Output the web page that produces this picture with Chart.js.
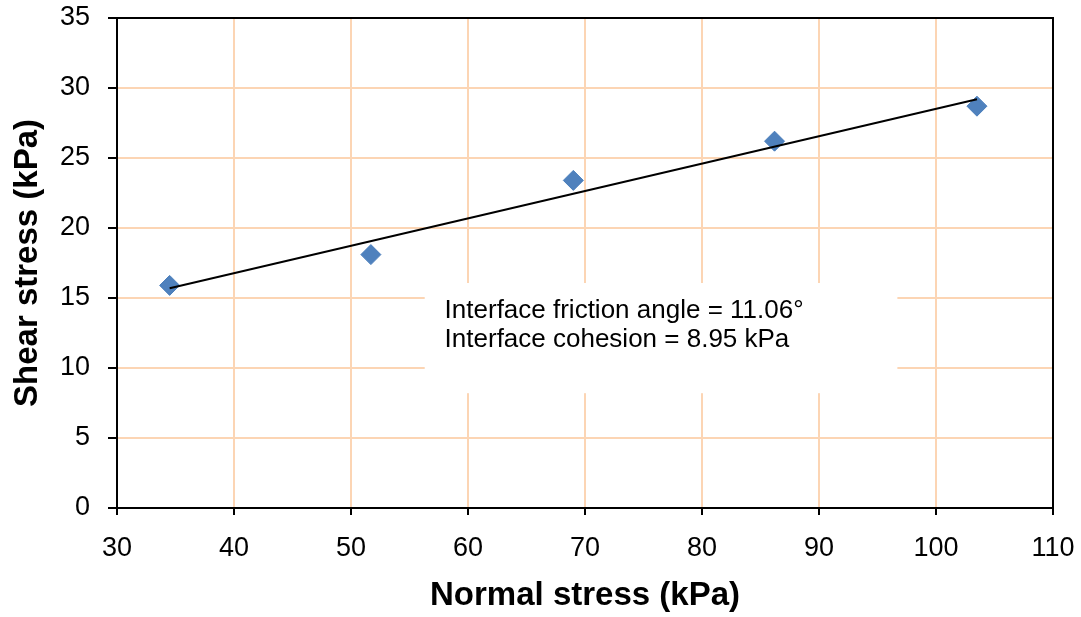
<!DOCTYPE html>
<html>
<head>
<meta charset="utf-8">
<script src="https://cdn.jsdelivr.net/npm/chart.js@4.4.0/dist/chart.umd.min.js"></script>
<style>
  html, body { margin: 0; padding: 0; background: #fff; }
  #wrap { width: 1081px; height: 617px; }
</style>
</head>
<body>
<div id="wrap"><canvas id="myChart" width="1081" height="617"></canvas></div>
<script>
// measured points
const normalStress = [34.5, 51.7, 69.0, 86.2, 103.5];
const shearStress = [15.9, 18.1, 23.4, 26.2, 28.7];

// trendline end points
const trendX = [34.5, 103.5];
const trendY = [15.7, 29.2];

const xTicks = [30, 40, 50, 60, 70, 80, 90, 100, 110];
const yTicks = [0, 5, 10, 15, 20, 25, 30, 35];

const noteLines = ['Interface friction angle = 11.06°', 'Interface cohesion = 8.95 kPa'];

const gridColor = '#FCD5B4';
const font = 'Arial, "Liberation Sans", sans-serif';

const points = [];
for (let i = 0; i < normalStress.length; i++) {
    points.push({ x: normalStress[i], y: shearStress[i] });
}
const trend = [];
for (let i = 0; i < trendX.length; i++) {
    trend.push({ x: trendX[i], y: trendY[i] });
}

// white box with the text, placed in data units
const noteBox = { x0: 56.3, x1: 96.7, y0: 16.07, y1: 8.2, textX: 58.0 };

const notePlugin = {
    id: 'notePlugin',
    beforeDatasetsDraw(chart) {
        const ctx = chart.ctx;
        const xs = chart.scales.x;
        const ys = chart.scales.y;
        const left = xs.getPixelForValue(noteBox.x0);
        const right = xs.getPixelForValue(noteBox.x1);
        const top = ys.getPixelForValue(noteBox.y0);
        const bottom = ys.getPixelForValue(noteBox.y1);
        ctx.save();
        ctx.fillStyle = '#fff';
        ctx.fillRect(left, top, right - left, bottom - top);
        ctx.fillStyle = '#000';
        ctx.font = '26px ' + font;
        ctx.textBaseline = 'alphabetic';
        ctx.textAlign = 'left';
        const tx = xs.getPixelForValue(noteBox.textX);
        ctx.fillText(noteLines[0], tx, top + 35);
        ctx.fillText(noteLines[1], tx, top + 64);
        ctx.restore();
    },
    afterDraw(chart) {
        const a = chart.chartArea;
        const ctx = chart.ctx;
        ctx.save();
        ctx.strokeStyle = '#000';
        ctx.lineWidth = 2;
        ctx.beginPath();
        ctx.moveTo(a.left, a.top);
        ctx.lineTo(a.right, a.top);
        ctx.lineTo(a.right, a.bottom);
        ctx.stroke();
        ctx.restore();
    }
};

Chart.defaults.font.family = font;
Chart.defaults.color = '#000';

const ctx = document.getElementById('myChart').getContext('2d');
const myChart = new Chart(ctx, {
    type: 'scatter',
    data: {
        datasets: [{
            label: 'Trend',
            type: 'line',
            data: trend,
            borderColor: '#000',
            borderWidth: 2,
            pointRadius: 0,
            fill: false,
            order: 0
        },
        {
            label: 'Shear stress',
            data: points,
            pointStyle: 'rectRot',
            pointRadius: 10,
            pointHoverRadius: 10,
            backgroundColor: '#4F81BD',
            borderColor: '#4A7EBB',
            borderWidth: 1,
            order: 1
        }]
    },
    options: {
        responsive: false,
        animation: false,
        layout: { padding: { top: 18, right: 28, left: 0, bottom: 0 } },
        plugins: {
            legend: { display: false },
            tooltip: { enabled: false }
        },
        scales: {
            x: {
                type: 'linear',
                min: 30,
                max: 110,
                afterBuildTicks: (scale) => { scale.ticks = xTicks.map(v => ({ value: v })); },
                afterFit: (scale) => {
                    scale.height = 109;
                    scale.paddingLeft = 0;
                    scale.paddingRight = 0;
                },
                grid: { color: gridColor, lineWidth: 2, tickColor: '#000', tickLength: 7, tickWidth: 2 },
                border: { color: '#000', width: 2 },
                ticks: { font: { size: 27 }, padding: 17, maxRotation: 0 },
                title: {
                    display: true,
                    text: 'Normal stress (kPa)',
                    font: { size: 33, weight: 'bold' },
                    padding: { top: 0, bottom: 1 }
                }
            },
            y: {
                type: 'linear',
                min: 0,
                max: 35,
                afterBuildTicks: (scale) => { scale.ticks = yTicks.map(v => ({ value: v })); },
                afterFit: (scale) => {
                    scale.width = 117;
                    scale.paddingTop = 0;
                    scale.paddingBottom = 0;
                },
                grid: { color: gridColor, lineWidth: 2, tickColor: '#000', tickLength: 9, tickWidth: 2 },
                border: { color: '#000', width: 2 },
                ticks: { font: { size: 27 }, padding: 18 },
                title: {
                    display: true,
                    text: 'Shear stress (kPa)',
                    font: { size: 33, weight: 'bold' },
                    padding: { top: 8, bottom: 0 }
                }
            }
        }
    },
    plugins: [notePlugin]
});
</script>
</body>
</html>
